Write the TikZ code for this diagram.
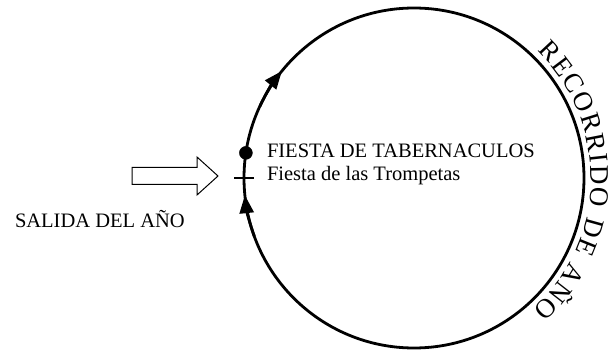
\documentclass[tikz,border=0pt]{standalone}
\usepackage{fontspec}
\setmainfont{Liberation Serif}
\usetikzlibrary{arrows.meta,decorations.text}

\begin{document}
\begin{tikzpicture}[x=1pt,y=1pt,
	ring/.style={line width=2.8pt},
	flow/.style={line width=2.8pt,-{Triangle[length=18pt,width=14pt]}},
	label/.style={anchor=base west,inner sep=0,outer sep=0,font=\fontsize{20.5}{23}\selectfont}]
	\useasboundingbox (0,0) rectangle (613,351);
	\coordinate (c) at (414,173);
	\draw[ring] (c) circle (170);
	% the year runs round clockwise
	\draw[flow] (c) ++(200:170) arc[start angle=200,end angle=185.8,radius=170];
	\draw[flow] (c) ++(155:170) arc[start angle=155,end angle=141,radius=170];
	\path (c) ++(171.5:170) node[draw,circle,fill=black,inner sep=0,outer sep=0,minimum size=13pt] (tab) {};
	\path (c) ++(180:170) coordinate (trp);
	\draw[line width=2.5pt] (trp) ++(-10,0) -- ++(20,0);
	% way in
	\coordinate (entry) at (218,175);
	\draw[line width=1pt] (entry) -- ++(-21,19) -- ++(0,-10.5) -- ++(-65,0) -- ++(0,-17) -- ++(65,0) -- ++(0,-10.5) -- cycle;
	\node[label] (fiesta) at (267,193) {FIESTA DE TABERNACULOS};
	\node[label] (trompetas) at (267,170) {Fiesta de las Trompetas};
	\node[label] (salida) at (15,124) {SALIDA DEL AÑO};
	\path[decorate,decoration={text along path,text align=fit to path,
		text={|\fontsize{27}{27}\selectfont|RECORRIDO DE AÑO}}]
		(c) ++(46:177) arc[start angle=46,end angle=-48,radius=177];
\end{tikzpicture}
\end{document}
